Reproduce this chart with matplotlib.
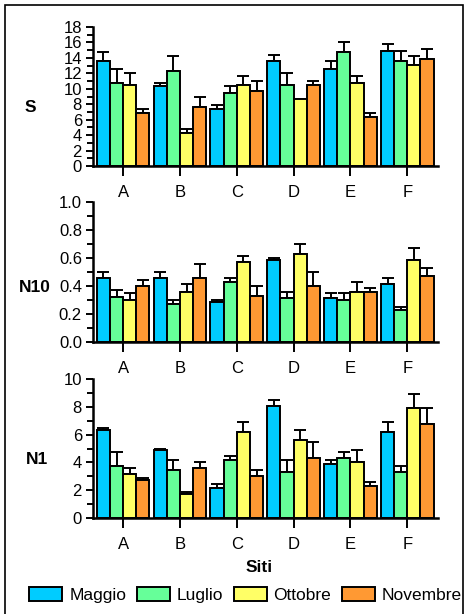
import matplotlib
matplotlib.use("Agg")
import matplotlib.pyplot as plt
import numpy as np
from matplotlib.patches import Rectangle, Patch
from matplotlib.ticker import MultipleLocator

plt.rcParams['font.family'] = ['Liberation Sans', 'DejaVu Sans']

sites = ["A", "B", "C", "D", "E", "F"]
months = ["Maggio", "Luglio", "Ottobre", "Novembre"]
colors = ["#00CCFF", "#66FF99", "#FFFF66", "#FF9933"]

# S (rows = months, cols = sites)
S_val = [[13.6, 10.3, 7.4, 13.6, 12.6, 14.9],
         [10.8, 12.3, 9.5, 10.5, 14.7, 13.6],
         [10.5, 4.3, 10.5, 8.7, 10.8, 13.1],
         [6.9, 7.7, 9.75, 10.5, 6.4, 13.9]]
S_err = [[1.1, 0.4, 0.5, 0.8, 1.0, 0.85],
         [1.8, 1.9, 0.8, 1.6, 1.3, 1.3],
         [1.6, 0.5, 1.1, 0.0, 0.8, 1.1],
         [0.5, 1.3, 1.3, 0.55, 0.5, 1.3]]

N10_val = [[0.457, 0.457, 0.286, 0.586, 0.314, 0.414],
           [0.324, 0.271, 0.429, 0.314, 0.300, 0.229],
           [0.300, 0.357, 0.571, 0.629, 0.357, 0.586],
           [0.400, 0.457, 0.329, 0.400, 0.357, 0.471]]
N10_err = [[0.043, 0.043, 0.014, 0.014, 0.034, 0.043],
           [0.047, 0.029, 0.028, 0.043, 0.048, 0.023],
           [0.048, 0.057, 0.043, 0.071, 0.072, 0.085],
           [0.043, 0.100, 0.071, 0.100, 0.029, 0.058]]

N1_val = [[6.32, 4.88, 2.15, 8.04, 3.88, 6.17],
          [3.73, 3.44, 4.16, 3.30, 4.31, 3.30],
          [3.16, 1.72, 6.17, 5.60, 4.02, 7.89],
          [2.73, 3.59, 3.01, 4.31, 2.30, 6.75]]
N1_err = [[0.14, 0.10, 0.29, 0.43, 0.28, 0.72],
          [1.01, 0.72, 0.29, 0.86, 0.43, 0.43],
          [0.43, 0.15, 0.72, 0.72, 0.86, 1.01],
          [0.14, 0.43, 0.43, 1.14, 0.28, 1.14]]

panels = [("S", S_val, S_err, 18, 2, 1, "{:.0f}"),
          ("N10", N10_val, N10_err, 1.0, 0.2, 0.1, "{:.1f}"),
          ("N1", N1_val, N1_err, 10, 2, 1, "{:.0f}")]

fig = plt.figure(figsize=(4.7, 6.14), dpi=100)
W, H = 470, 614
axes_px = [(27, 166), (202, 342), (379, 518)]
label_pos = [(30, 108), (35, 287), (37, 460)]
x = np.arange(len(sites))
bw = 0.232

for (name, vals, errs, ymax, major, minor, fmt), (top, bot), (lx, ly) in zip(panels, axes_px, label_pos):
    ax = fig.add_axes([93 / W, 1 - bot / H, (438 - 93) / W, (bot - top) / H])
    for i in range(4):
        xs = x + (i - 1.5) * bw
        v = np.array(vals[i])
        e = np.array(errs[i])
        ax.bar(xs, v, width=bw, color=colors[i], edgecolor="black", linewidth=1.4, zorder=2)
        ax.errorbar(xs, v, yerr=[np.zeros_like(e), e], fmt="none", ecolor="black",
                    elinewidth=1.4, capsize=4, capthick=1.4, zorder=1)
    ax.set_xlim(-0.53, 5.54)
    ax.set_ylim(0, ymax)
    ax.yaxis.set_major_locator(MultipleLocator(major))
    ax.yaxis.set_minor_locator(MultipleLocator(minor))
    ax.yaxis.set_major_formatter(matplotlib.ticker.FuncFormatter(lambda v, p, f=fmt: f.format(v)))
    ax.set_xticks(x)
    ax.set_xticklabels(sites)
    for s in ["top", "right"]:
        ax.spines[s].set_visible(False)
    for s in ["left", "bottom"]:
        ax.spines[s].set_linewidth(1.8)
    ax.tick_params(axis="y", which="major", length=5, width=1.4, labelsize=12, pad=3)
    ax.tick_params(axis="y", which="minor", length=4, width=1.4)
    ax.tick_params(axis="x", which="major", length=7, width=1.4, labelsize=12, pad=7)
    ax.set_facecolor("none")
    fig.text(lx / W, 1 - ly / H, name, fontsize=12.5, fontweight="bold", ha="center", va="center")

fig.text(259 / W, 1 - 568 / H, "Siti", fontsize=12.5, fontweight="bold", ha="center", va="center")

handles = [Patch(facecolor=c, edgecolor="black", linewidth=1.4) for c in colors]
fig.legend(handles, months, loc="center", bbox_to_anchor=(245.5 / W, 1 - 595 / H), ncol=4,
           frameon=False, fontsize=12.5, handlelength=1.9, handleheight=0.92,
           handletextpad=0.4, columnspacing=0.6, borderaxespad=0, borderpad=0)

fig.add_artist(Rectangle((5 / W, -0.02), (463 - 5) / W, 1 - 5 / H + 0.02, transform=fig.transFigure,
                         fill=False, edgecolor="black", linewidth=1.2, clip_on=False))

fig.savefig("out.png", dpi=100)
